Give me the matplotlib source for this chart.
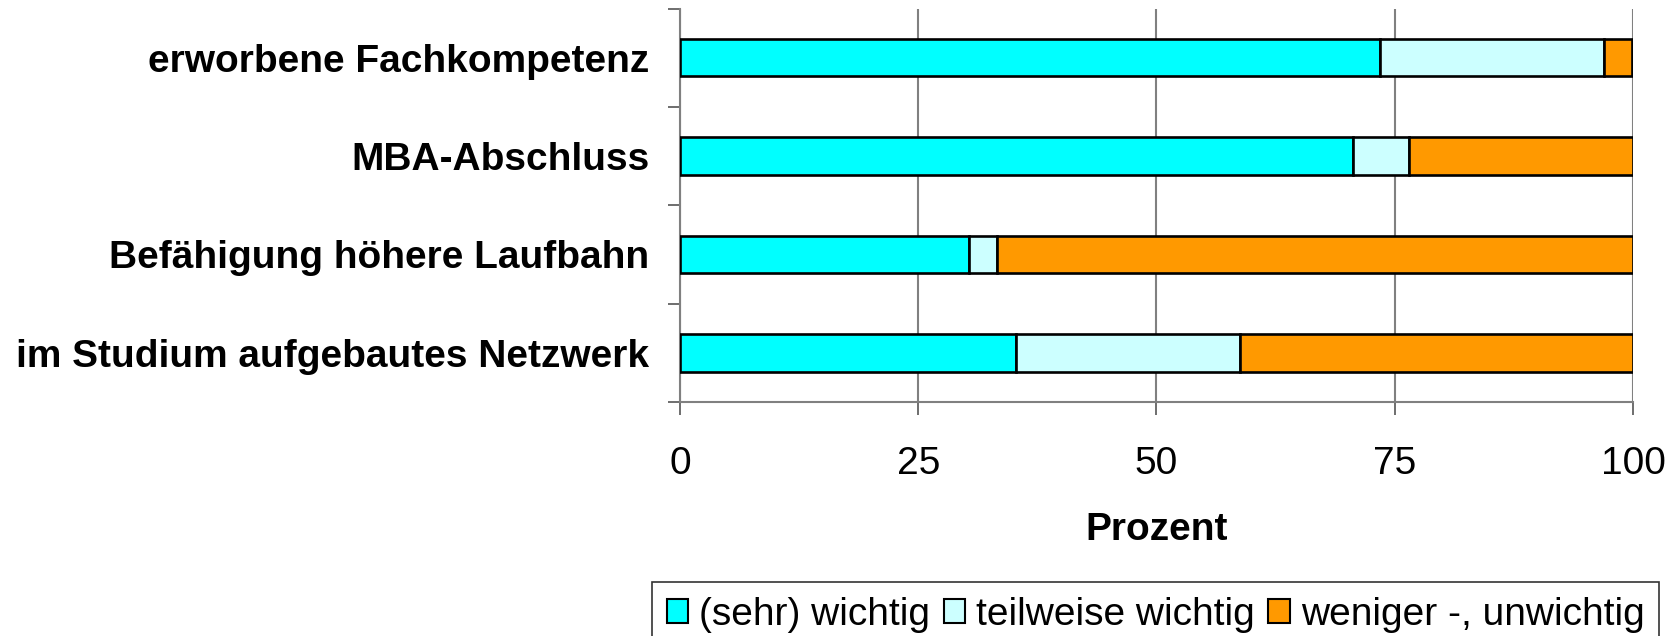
import matplotlib
matplotlib.use("Agg")
import matplotlib.pyplot as plt
from matplotlib.patches import Patch
import numpy as np

plt.rcParams['font.family'] = ['Liberation Sans', 'DejaVu Sans']

categories = ["erworbene Fachkompetenz", "MBA-Abschluss",
              "Befähigung höhere Laufbahn", "im Studium aufgebautes Netzwerk"]
series_names = ["(sehr) wichtig", "teilweise wichtig", "weniger -, unwichtig"]
sehr_wichtig = [73.5, 70.6, 30.3, 35.3]
teilweise_wichtig = [23.5, 5.9, 3.0, 23.5]
unwichtig = [2.9, 23.5, 66.7, 41.2]
colors = ["#00FFFF", "#CCFFFF", "#FF9900"]
x_ticks = [0, 25, 50, 75, 100]
x_label = "Prozent"

fig = plt.figure(figsize=(16.81, 6.36), dpi=100)
ax = fig.add_axes([680 / 1681, 1 - 402 / 636, (1633 - 680) / 1681, (402 - 8.6) / 636])

y = np.arange(len(categories))
left = np.zeros(len(categories))
for vals, col, name in zip([sehr_wichtig, teilweise_wichtig, unwichtig], colors, series_names):
    ax.barh(y, vals, left=left, height=0.38, color=col, edgecolor="black",
            linewidth=1.9, label=name, zorder=3)
    left += np.array(vals)

ax.set_xlim(0, 100)
ax.set_ylim(3.5, -0.5)
ax.set_xticks(x_ticks)
ax.set_xticklabels([str(t) for t in x_ticks], fontsize=28)
ax.set_yticks(y)
ax.set_yticklabels(categories, fontsize=28, fontweight="bold")
ax.set_yticks(np.arange(-0.5, len(categories), 1.0), minor=True)
ax.tick_params(axis="y", which="major", length=0, pad=22)
ax.tick_params(axis="y", which="minor", length=9, width=1.2, color="#555555")
ax.tick_params(axis="x", which="major", length=9, width=1.2, color="#555555", pad=23)

ax.grid(axis="x", color="#808080", linewidth=1.5, zorder=0)
for s in ["top", "right"]:
    ax.spines[s].set_visible(False)
ax.spines["left"].set_color("#808080")
ax.spines["left"].set_linewidth(1.5)
ax.spines["bottom"].set_color("#808080")
ax.spines["bottom"].set_linewidth(1.5)

ax.set_xlabel(x_label, fontsize=28, fontweight="bold", labelpad=21)

handles = [Patch(facecolor=c, edgecolor="black", linewidth=1.5) for c in colors]
leg = fig.legend(handles, series_names, loc="upper left",
                 bbox_to_anchor=(652 / 1681, 1 - 582 / 636), ncol=3,
                 fontsize=28, frameon=True, fancybox=False,
                 handlelength=0.55, handleheight=0.6, handletextpad=0.28,
                 columnspacing=0.35, borderpad=0.38, borderaxespad=0)
leg.get_frame().set_edgecolor("black")
leg.get_frame().set_linewidth(1.2)

fig.savefig("out.png", dpi=100)
